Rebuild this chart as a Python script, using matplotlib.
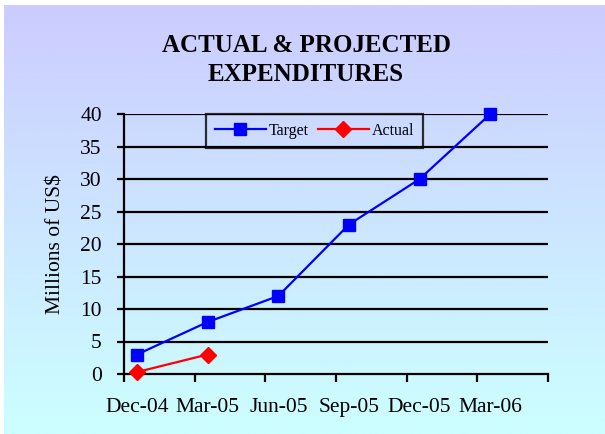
import numpy as np
import matplotlib
matplotlib.use("Agg")
import matplotlib.pyplot as plt
from matplotlib.ticker import FixedLocator, NullFormatter, FixedFormatter

categories = ["Dec-04", "Mar-05", "Jun-05", "Sep-05", "Dec-05", "Mar-06"]
target = [3, 8, 12, 23, 30, 40]
actual = [0.3, 3]
yticks = [0, 5, 10, 15, 20, 25, 30, 35, 40]

plt.rcParams['font.family'] = ['Liberation Serif', 'DejaVu Serif']

W, H = 605, 434
fig = plt.figure(figsize=(W / 100, H / 100), dpi=100)

# background gradient
bg = fig.add_axes([4 / W, 0, 1 - 4 / W, 1 - 5 / H], zorder=-10)
top = np.array([204, 204, 255]) / 255
bot = np.array([204, 255, 255]) / 255
t = np.linspace(0, 1, 256)[:, None]
grad = (top[None, :] * (1 - t) + bot[None, :] * t)[:, None, :]
bg.imshow(grad, aspect='auto', extent=[0, 1, 0, 1])
bg.set_axis_off()

ax = fig.add_axes([124 / W, 1 - 374 / H, (548 - 124) / W, (374 - 114) / H])
ax.set_facecolor('none')

x = np.arange(len(categories))
off = 0.184
ax.set_xlim(-off, len(categories) - off)
ax.set_ylim(0, 40)

for yv in yticks[1:]:
    ax.axhline(yv, color='black', lw=1.6, zorder=1)

ax.plot(x[:len(target)], target, color='#0000FF', lw=1.6, marker='s', ms=9,
        mfc='#0000FF', mec='#0000FF', label='Target', zorder=3, clip_on=False)
ax.plot(x[:len(actual)], actual, color='#FF0000', lw=1.6, marker='D', ms=8,
        mfc='#FF0000', mec='#FF0000', label='Actual', zorder=3, clip_on=False)

for s in ['top', 'right']:
    ax.spines[s].set_visible(False)
for s in ['left', 'bottom']:
    ax.spines[s].set_linewidth(1.6)
    ax.spines[s].set_color('black')

ax.set_yticks(yticks)
ax.set_yticklabels([str(v) for v in yticks], fontsize=15.5)
ax.tick_params(axis='y', direction='out', length=5, width=1.6, pad=11)

ax.xaxis.set_major_locator(FixedLocator([k - off for k in range(len(categories) + 1)]))
ax.xaxis.set_major_formatter(NullFormatter())
ax.xaxis.set_minor_locator(FixedLocator(list(x)))
ax.xaxis.set_minor_formatter(FixedFormatter(categories))
ax.tick_params(axis='x', which='major', direction='out', length=6, width=1.6)
ax.tick_params(axis='x', which='minor', length=0, pad=17, labelsize=15.5)

ax.set_ylabel('Millions of US$', fontsize=15.5)
ax.yaxis.set_label_coords((66 - 124) / (548 - 124), 0.5)

fig.text(0.506, 1 - 60 / H, 'ACTUAL & PROJECTED\nEXPENDITURES', ha='center', va='center',
         fontsize=18, fontweight='bold', linespacing=1.32)

leg = ax.legend(loc='upper left', bbox_to_anchor=((206 - 124) / (548 - 124), 1.0),
                ncol=2, fontsize=11.5, frameon=True, fancybox=False,
                borderaxespad=0, handlelength=3.2, handletextpad=0.15,
                columnspacing=0.6, borderpad=0.55)
leg.get_frame().set_edgecolor('black')
leg.get_frame().set_linewidth(1.6)
leg.get_frame().set_facecolor('none')

fig.savefig('out.png', dpi=100)
